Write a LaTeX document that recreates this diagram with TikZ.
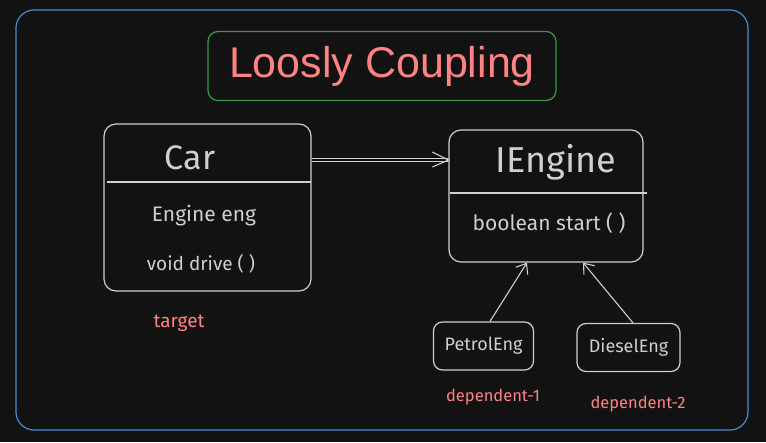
\documentclass[tikz,border=0pt]{standalone}
\usepackage{fontspec}
\setmainfont{Liberation Sans}
\newfontfamily\handfont{Fira Sans}
\usetikzlibrary{arrows.meta,positioning}
\definecolor{bgdark}{HTML}{121212}
\definecolor{strokegray}{HTML}{CFCFCF}
\definecolor{salmon}{HTML}{FF8383}
\definecolor{framegreen}{HTML}{2F9E44}
\definecolor{frameblue}{HTML}{4A8AD0}
\begin{document}
\begin{tikzpicture}[x=1pt,y=-1pt,
	classbox/.style={draw=strokegray,line width=1.2pt,rounded corners=12pt,inner sep=0pt},
	smallbox/.style={draw=strokegray,line width=1.2pt,rounded corners=9pt,inner sep=0pt,minimum width=100pt,minimum height=48pt},
	label/.style={text=strokegray,font=\handfont,inner sep=0pt},
	note/.style={text=salmon,font=\handfont\fontsize{16.5}{19}\selectfont,inner sep=0pt},
	link/.style={draw=strokegray,line width=1.1pt}]
	\fill[bgdark] (0,0) rectangle (766,442);
	\useasboundingbox (0,0) rectangle (766,442);
	\draw[frameblue,line width=1.2pt,rounded corners=18pt] (16,10) rectangle (748,430);
	% title
	\node[draw=framegreen,line width=1.2pt,rounded corners=10pt,minimum width=348pt,minimum height=69pt,
		text=salmon,font=\fontsize{43}{50}\selectfont] (title) at (382,66) {Loosly Coupling};
	% classes
	\node[classbox,minimum width=207pt,minimum height=167pt] (car) at (207.5,207.5) {};
	\node[classbox,minimum width=194pt,minimum height=132pt] (ieng) at (546,196) {};
	\draw[link] (107,182) -- (311,182);
	\draw[link] (450,193) -- (647,193);
	\node[label,font=\handfont\fontsize{34}{38}\selectfont] (carname) at (190,158) {Car};
	\node[label,font=\handfont\fontsize{21}{24}\selectfont] (carfield) at (204,216) {Engine eng};
	\node[label,font=\handfont\fontsize{19}{22}\selectfont] (carmethod) at (201,264) {void drive ( )};
	\node[label,font=\handfont\fontsize{36}{40}\selectfont] (iengname) at (556,162) {IEngine};
	\node[label,font=\handfont\fontsize{21}{24}\selectfont] (iengmethod) at (549,223) {boolean start ( )};
	% implementations
	\node[smallbox] (petrol) at (483.5,346) {};
	\node[smallbox,minimum width=103pt] (diesel) at (628.5,347.5) {};
	\node[label,font=\handfont\fontsize{18}{21}\selectfont] (petrolname) at (petrol) {PetrolEng};
	\node[label,font=\handfont\fontsize{18}{21}\selectfont] (dieselname) at (diesel) {DieselEng};
	% notes
	\node[note,font=\handfont\fontsize{19}{22}\selectfont] (target) at (179,323) {target};
	\node[note] (dep1) at (493,397) {dependent-1};
	\node[note] (dep2) at (638,404) {dependent-2};
	% connectors
	\coordinate (tip) at (ieng.west |- 0,160);
	\draw[link,double=bgdark,double distance=1.4pt] (car.east |- 0,160) -- (tip);
	\draw[link] (tip) ++(-16,-8) -- (tip) -- ++(-16,7);
	\draw[link,-{Straight Barb[length=9pt,width=14pt]}] (petrol.north -| 490,0) -- (ieng.south -| 527,0);
	\draw[link,-{Straight Barb[length=9pt,width=14pt]}] (diesel.north -| 633,0) -- (ieng.south -| 583,0);
\end{tikzpicture}
\end{document}
